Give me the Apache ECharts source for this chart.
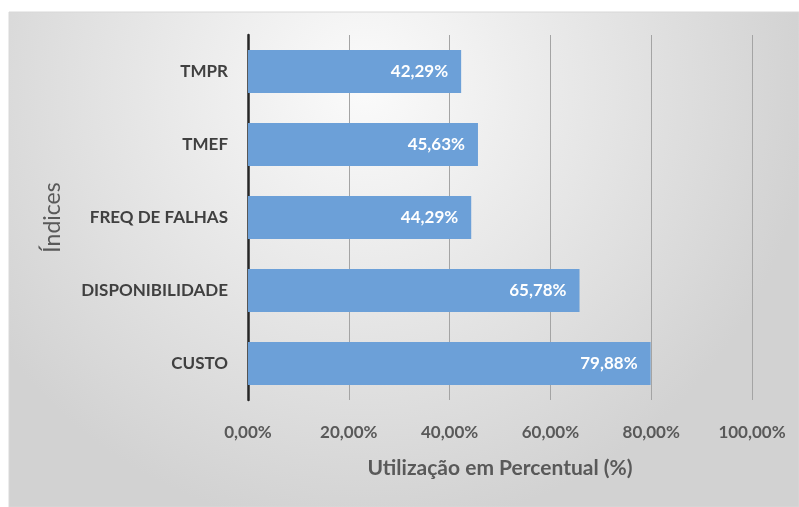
<!DOCTYPE html>
<html>
<head>
<meta charset="utf-8">
<script src="https://cdn.jsdelivr.net/npm/echarts@6/dist/echarts.min.js"></script>
<style>html,body{margin:0;padding:0;background:#fff;}#c{width:799px;height:507px;}</style>
</head>
<body>
<div id="c"></div>
<script>
var categories = ['TMPR', 'TMEF', 'FREQ DE FALHAS', 'DISPONIBILIDADE', 'CUSTO'];
var values = [42.29, 45.63, 44.29, 65.78, 79.88];
var xTicks = [0, 20, 40, 60, 80, 100];
var xAxisTitle = 'Utilização em Percentual (%)';
var yAxisTitle = 'Índices';

function pct(v) { return v.toFixed(2).replace('.', ',') + '%'; }

var chart = echarts.init(document.getElementById('c'), null, {renderer: 'canvas'});
chart.setOption({
  animation: false,
  backgroundColor: '#ffffff',
  graphic: [{
    type: 'rect', z: -10, silent: true,
    shape: {x: 9, y: 12, width: 790, height: 495},
    style: {
      fill: new echarts.graphic.RadialGradient(0.45, 0.15, 0.9, [
        {offset: 0, color: '#fbfbfb'},
        {offset: 1, color: '#d2d2d2'}
      ]),
      stroke: '#d8d8d8', lineWidth: 1
    }
  }],
  grid: {left: 248, right: 47, top: 35, bottom: 107, containLabel: false},
  xAxis: {
    type: 'value', min: xTicks[0], max: xTicks[xTicks.length - 1], interval: 20,
    axisLine: {show: false}, axisTick: {show: false},
    splitLine: {show: true, lineStyle: {color: '#a4a4a4', width: 1}},
    axisLabel: {formatter: pct, color: '#595959', fontFamily: 'Lato', fontWeight: 'bold', fontSize: 17, margin: 24},
    name: xAxisTitle, nameLocation: 'middle', nameGap: 58,
    nameTextStyle: {color: '#595959', fontFamily: 'Lato', fontWeight: 'bold', fontSize: 21}
  },
  yAxis: {
    type: 'category', data: categories, inverse: true,
    axisLine: {show: true, lineStyle: {color: '#262626', width: 2.5}},
    axisTick: {show: false}, splitLine: {show: false},
    axisLabel: {color: '#404040', fontFamily: 'Lato', fontWeight: 'bold', fontSize: 17, margin: 20},
    name: yAxisTitle, nameLocation: 'middle', nameGap: 184, nameRotate: 90,
    nameTextStyle: {color: '#595959', fontFamily: 'Lato', fontWeight: 'normal', fontSize: 23}
  },
  series: [{
    type: 'bar', data: values, barCategoryGap: '41%',
    itemStyle: {color: '#6ca0d8'},
    label: {show: true, position: 'insideRight', distance: 13, formatter: function (p) { return pct(p.value); },
      color: '#ffffff', fontFamily: 'Lato', fontWeight: 'bold', fontSize: 17}
  }]
});
</script>
</body>
</html>
